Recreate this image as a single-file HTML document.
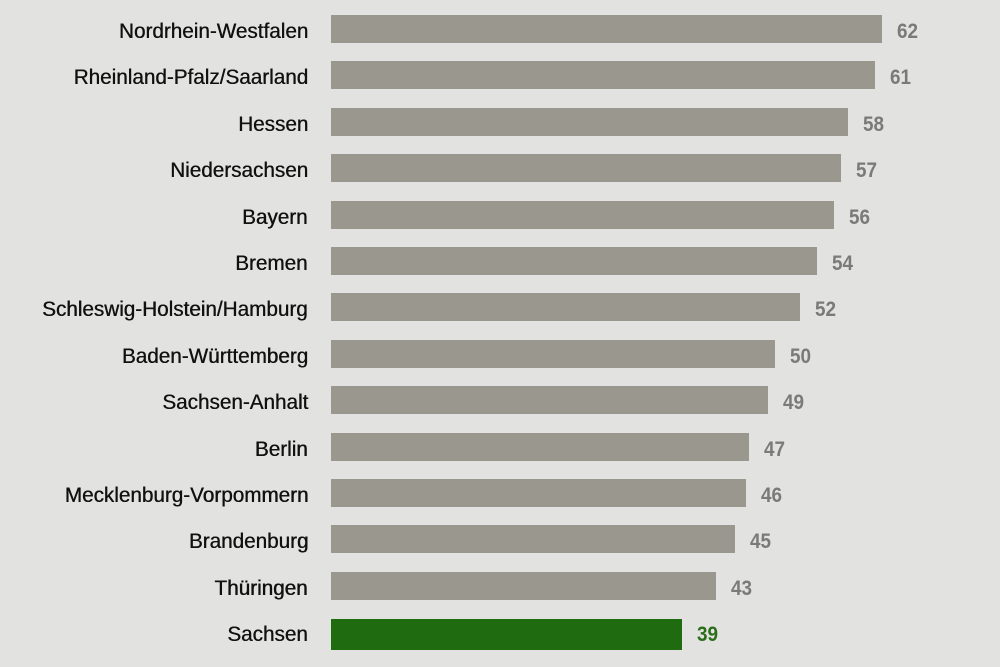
<!DOCTYPE html>
<html><head><style>
body{margin:0;background:#e2e2e0;}
#c{position:relative;width:1000px;height:667px;background:#e2e2e0;overflow:hidden;font-family:"Liberation Sans",sans-serif;}
.l{position:absolute;right:692px;font-size:21px;color:#111;transform:scaleX(0.985);transform-origin:right center;white-space:nowrap;line-height:28px;text-shadow:0.4px 0 0 #111;}
.b{position:absolute;left:331px;height:28px;background:#9a978f;}
.v{position:absolute;font-size:21px;font-weight:bold;color:#7a7a78;transform:scaleX(0.9);transform-origin:left center;line-height:28px;}
</style></head><body><div id="c">
<script>
var d=[["Nordrhein-Westfalen",62,882],["Rheinland-Pfalz/Saarland",61,875],["Hessen",58,848],["Niedersachsen",57,841],["Bayern",56,834],["Bremen",54,817],["Schleswig-Holstein/Hamburg",52,800],["Baden-Württemberg",50,775],["Sachsen-Anhalt",49,768],["Berlin",47,749],["Mecklenburg-Vorpommern",46,746],["Brandenburg",45,735],["Thüringen",43,716],["Sachsen",39,682]];
var h="";
d.forEach(function(r,i){var t=15+i*46.4;var g=i==13;
h+='<div class="l" style="top:'+(t+3)+'px">'+r[0]+'</div>';
h+='<div class="b" style="top:'+(g?t+1:t)+'px;width:'+(r[2]-331)+'px;'+(g?'height:31px;background:#1e6b10;':'')+'"></div>';
h+='<div class="v" style="top:'+(t+3)+'px;left:'+(r[2]+15)+'px;'+(g?'color:#2a6e1a;':'')+'">'+r[1]+'</div>';});
document.write(h);
</script>
</div></body></html>
